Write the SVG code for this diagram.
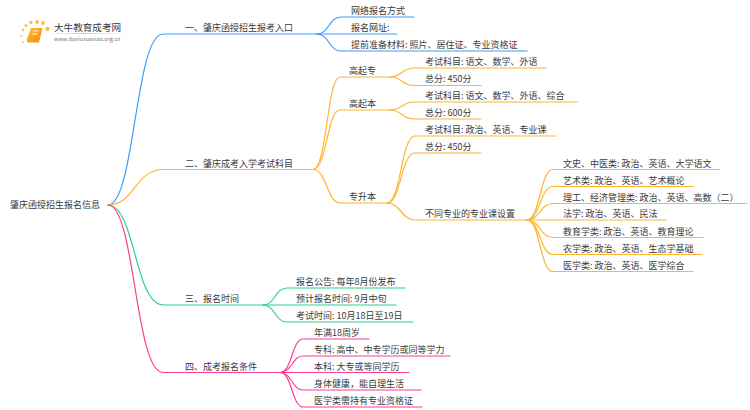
<svg xmlns="http://www.w3.org/2000/svg" width="750" height="410" viewBox="0 0 750 410">
<style>
text{font-family:"Noto Sans CJK SC","Noto Sans",sans-serif;font-size:9px;fill:#3a3a3a}
.c{fill:none;stroke-width:1.200;stroke-linecap:round}
.b{stroke:#3d9bff}.o{stroke:#ffb52e}.g{stroke:#2fd08d}.p{stroke:#ff3d94}
</style>
<defs><linearGradient id="fade" x1="0" x2="1" y1="0" y2="0"><stop offset="0" stop-color="#ccc" stop-opacity="0"/><stop offset=".4" stop-color="#ccc"/><stop offset="1" stop-color="#ccc" stop-opacity="0"/></linearGradient>
<linearGradient id="bk" x1="0" x2="1" y1="0" y2="1"><stop offset="0" stop-color="#ffbe33"/><stop offset="1" stop-color="#f58a0c"/></linearGradient></defs>
<rect width="750" height="410" fill="#fff"/>
<g id="logo">
<g fill="#fbc04a"><circle cx="47.500" cy="29" r="2.200"/><circle cx="43" cy="23" r="1.900"/><circle cx="37" cy="22" r="2"/><circle cx="31" cy="22.500" r="1.800"/><circle cx="26" cy="25.500" r="1.500"/><circle cx="23" cy="30" r="1.300"/><circle cx="21.500" cy="36" r="1.100"/><circle cx="23" cy="42" r="1"/></g>
<path d="M31 28h11.500l-3.500 14.500H29q-3 0-2-3.500z" fill="url(#bk)"/><path d="M33.500 31h5M32.500 34h5" stroke="#fff" stroke-width="1" fill="none"/>
<text x="54" y="31" style="font-size:9.600px">大牛教育成考网</text>
<rect x="48" y="33" width="85" height="1" fill="url(#fade)"/>
<text x="54" y="40.500" style="font-size:5.500px;fill:#777">www.daniuxuexiao.org.cn</text>
</g>
<g id="connectors">
<path class="c b" d="M108 205C135 205 135 34 163 34H317"/>
<path class="c o" d="M108 205C135 205 135 169.500 163 169.500H313"/>
<path class="c g" d="M108 205C135 205 135 305 163 305H263"/>
<path class="c p" d="M108 205C135 205 135 372.500 163 372.500H280"/>
<path class="c b" d="M317 34C329 34 329 17 341 17H414"/>
<path class="c b" d="M317 34H397"/>
<path class="c b" d="M317 34C329 34 329 51 341 51H527"/>
<path class="c o" d="M313 169.500C327 169.500 327 77 340 77H390"/>
<path class="c o" d="M313 169.500C327 169.500 327 110 340 110H390"/>
<path class="c o" d="M313 169.500C327 169.500 327 203 340 203H387"/>
<path class="c o" d="M390 77C402 77 402 68 414 68H546"/>
<path class="c o" d="M390 77C402 77 402 85.500 414 85.500H481"/>
<path class="c o" d="M390 110C402 110 402 102 414 102H577"/>
<path class="c o" d="M390 110C402 110 402 119 414 119H481"/>
<path class="c o" d="M387 203C401 203 401 136 415 136H556"/>
<path class="c o" d="M387 203C401 203 401 153 415 153H481"/>
<path class="c o" d="M387 203C401 203 401 220 415 220H527"/>
<path class="c o" d="M527 220C540 220 540 169.500 553 169.500H720"/>
<path class="c o" d="M527 220C540 220 540 186.500 553 186.500H693"/>
<path class="c o" d="M527 220C540 220 540 203.500 553 203.500H747"/>
<path class="c o" d="M527 220H666"/>
<path class="c o" d="M527 220C540 220 540 237.500 553 237.500H703"/>
<path class="c o" d="M527 220C540 220 540 254.500 553 254.500H702"/>
<path class="c o" d="M527 220C540 220 540 271.500 553 271.500H693"/>
<path class="c g" d="M263 305C275 305 275 288 287 288H405"/>
<path class="c g" d="M263 305H396"/>
<path class="c g" d="M263 305C275 305 275 322 287 322H413"/>
<path class="c p" d="M280 372.500C292 372.500 292 339 303 339H369"/>
<path class="c p" d="M280 372.500C292 372.500 292 356 303 356H450"/>
<path class="c p" d="M280 372.500H409"/>
<path class="c p" d="M280 372.500C292 372.500 292 390 303 390H421"/>
<path class="c p" d="M280 372.500C292 372.500 292 407 303 407H422"/>
</g>
<g id="root"><text x="10" y="208">肇庆函授招生报名信息</text></g>
<g id="n1"><text x="185" y="31">一、肇庆函授招生报考入口</text></g>
<g id="n1-1"><text x="351" y="14">网络报名方式</text></g>
<g id="n1-2"><text x="351" y="31">报名网址:</text></g>
<g id="n1-3"><text x="351" y="48">提前准备材料: 照片、居住证、专业资格证</text></g>
<g id="n2"><text x="185" y="166.500">二、肇庆成考入学考试科目</text></g>
<g id="n2-1"><text x="349" y="73.500">高起专</text></g>
<g id="n2-1-1"><text x="425" y="65">考试科目: 语文、数学、外语</text></g>
<g id="n2-1-2"><text x="425" y="82">总分: 450分</text></g>
<g id="n2-2"><text x="349" y="107">高起本</text></g>
<g id="n2-2-1"><text x="425" y="99">考试科目: 语文、数学、外语、综合</text></g>
<g id="n2-2-2"><text x="425" y="116">总分: 600分</text></g>
<g id="n2-3"><text x="349" y="200">专升本</text></g>
<g id="n2-3-1"><text x="425" y="133">考试科目: 政治、英语、专业课</text></g>
<g id="n2-3-2"><text x="425" y="150">总分: 450分</text></g>
<g id="n2-3-3"><text x="425" y="217">不同专业的专业课设置</text></g>
<g id="m1"><text x="563" y="166.500">文史、中医类: 政治、英语、大学语文</text></g>
<g id="m2"><text x="563" y="183.500">艺术类: 政治、英语、艺术概论</text></g>
<g id="m3"><text x="563" y="200.500">理工、经济管理类: 政治、英语、高数（二）</text></g>
<g id="m4"><text x="563" y="217">法学: 政治、英语、民法</text></g>
<g id="m5"><text x="563" y="234.500">教育学类: 政治、英语、教育理论</text></g>
<g id="m6"><text x="563" y="251.500">农学类: 政治、英语、生态学基础</text></g>
<g id="m7"><text x="563" y="268.500">医学类: 政治、英语、医学综合</text></g>
<g id="n3"><text x="185" y="302">三、报名时间</text></g>
<g id="n3-1"><text x="296" y="285">报名公告: 每年8月份发布</text></g>
<g id="n3-2"><text x="296" y="302">预计报名时间: 9月中旬</text></g>
<g id="n3-3"><text x="296" y="319">考试时间: 10月18日至19日</text></g>
<g id="n4"><text x="185" y="369.500">四、成考报名条件</text></g>
<g id="n4-1"><text x="314" y="336">年满18周岁</text></g>
<g id="n4-2"><text x="314" y="353">专科: 高中、中专学历或同等学力</text></g>
<g id="n4-3"><text x="314" y="369.500">本科: 大专或等同学历</text></g>
<g id="n4-4"><text x="314" y="387">身体健康，能自理生活</text></g>
<g id="n4-5"><text x="314" y="404">医学类需持有专业资格证</text></g>
</svg>
